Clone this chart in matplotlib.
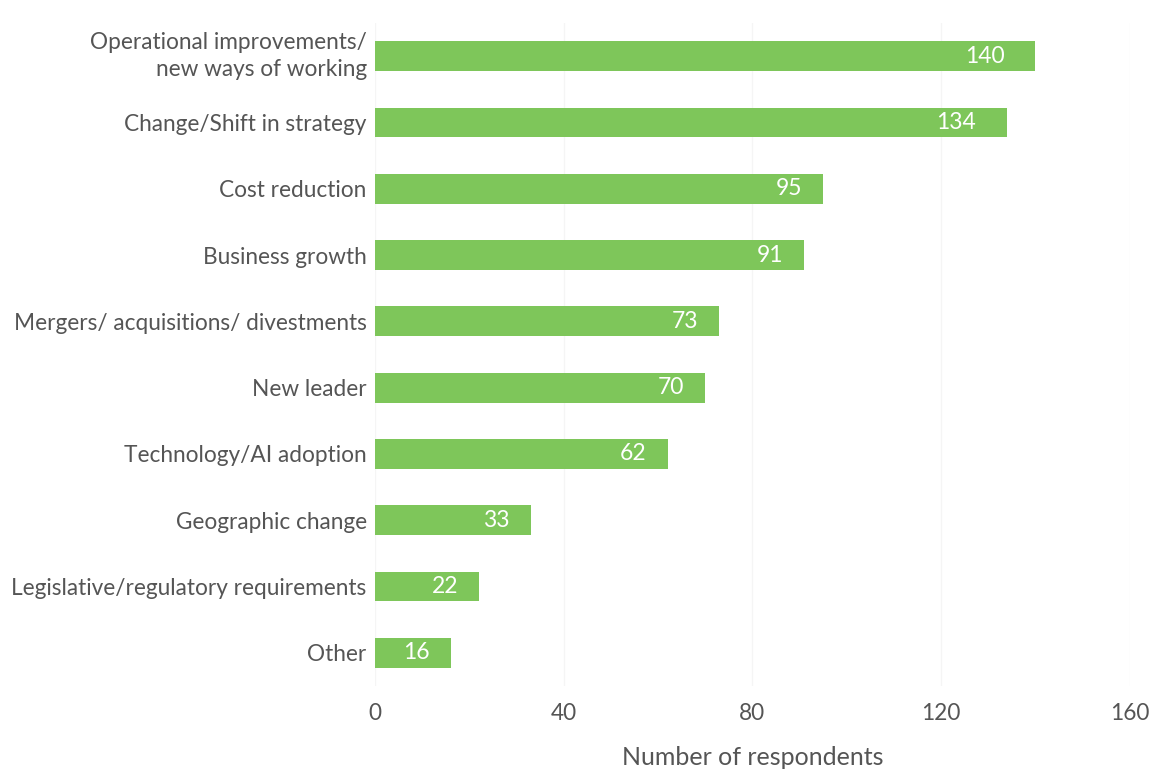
import matplotlib.pyplot as plt

categories = ['Operational improvements/\nnew ways of working', 'Change/Shift in strategy',
              'Cost reduction', 'Business growth', 'Mergers/ acquisitions/ divestments',
              'New leader', 'Technology/AI adoption', 'Geographic change',
              'Legislative/regulatory requirements', 'Other']
respondents = [140, 134, 95, 91, 73, 70, 62, 33, 22, 16]
x_ticks = [0, 40, 80, 120, 160]

plt.rcParams['font.family'] = ['Lato', 'DejaVu Sans']
text_color = '#555555'
bar_color = '#7ec65a'

fig = plt.figure(figsize=(11.54, 7.69), dpi=100)
ax = fig.add_axes([0.325, 0.108, 0.654, 0.862])

ypos = list(range(len(categories)))
ax.barh(ypos, respondents, height=0.45, color=bar_color, zorder=2)

# value labels sit inside the bar, near its end
for y, v in zip(ypos, respondents):
    ax.annotate(str(v), (v, y), xytext=(-17 * len(str(v)), 0), textcoords='offset pixels',
                ha='center', va='center', color='white', fontsize=16.5, zorder=3)

ax.set_ylim(len(categories) - 0.5, -0.5)
ax.set_xlim(0, 160)
ax.set_yticks(ypos)
ax.set_yticklabels(categories, fontsize=16.3, color=text_color, linespacing=1.35)
# keep the two-line label centred on its bar
ax.get_yticklabels()[0].set_va('center')
ax.set_xticks(x_ticks)
ax.set_xticklabels([str(t) for t in x_ticks], fontsize=16.3, color=text_color)
ax.tick_params(axis='y', length=0, pad=6)
ax.tick_params(axis='x', length=0, pad=12)
ax.set_xlabel('Number of respondents', fontsize=18, color=text_color, labelpad=16)

ax.grid(axis='x', color='#f5f5f5', linewidth=1, zorder=0)
for s in ax.spines.values():
    s.set_visible(False)

fig.savefig('out.png', dpi=100)
